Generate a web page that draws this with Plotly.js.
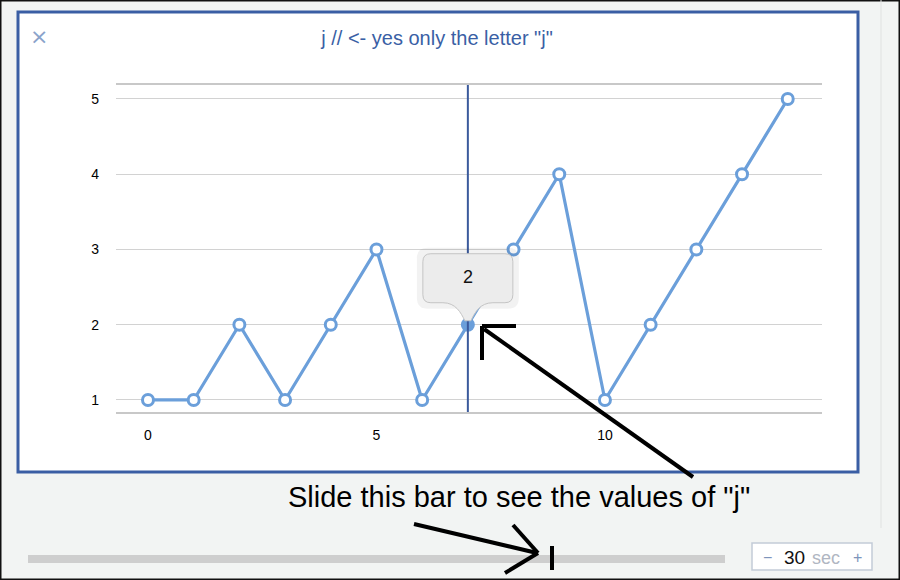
<!DOCTYPE html>
<html>
<head>
<meta charset="utf-8">
<script src="https://cdn.plot.ly/plotly-3.0.1.min.js"></script>
<style>
  html, body { margin: 0; padding: 0; background: #f2f4f3; }
  #myDiv { width: 900px; height: 580px; }
</style>
</head>
<body>
<div id="myDiv"></div>
<script>
// values of "j" for each step
var steps = [0, 1, 2, 3, 4, 5, 6, 7, 8, 9, 10, 11, 12, 13, 14];
var jValues = [1, 1, 2, 1, 2, 3, 1, 2, 3, 4, 1, 2, 3, 4, 5];
var xTicks = [0, 5, 10];
var yTicks = [1, 2, 3, 4, 5];
var sliderIndex = 7;

var chartTitle = 'j // <- yes only the letter "j"';
var noteText = 'Slide this bar to see the values of "j"';

var W = 900, H = 580;
function px(x) { return x / W; }
function py(y) { return 1 - y / H; }

var lineBlue = '#6b9fda';
var frameBlue = '#3a5ea4';

function drawChart() {
    var markerFill = jValues.map(function (v, i) {
        return i === sliderIndex ? lineBlue : '#ffffff';
    });

    var trace = {
        x: steps,
        y: jValues,
        type: 'scatter',
        mode: 'lines+markers',
        line: { color: lineBlue, width: 3.2 },
        marker: {
            size: 11,
            color: markerFill,
            line: { color: lineBlue, width: 3 }
        },
        hoverinfo: 'none'
    };

    function seg(x0, y0, x1, y1, w, c) {
        return {
            type: 'line', xref: 'paper', yref: 'paper',
            x0: px(x0), y0: py(y0), x1: px(x1), y1: py(y1),
            line: { color: c || '#000000', width: w }
        };
    }

    function label(x, y, text, size, color, family) {
        return {
            xref: 'paper', yref: 'paper', x: px(x), y: py(y),
            xanchor: 'center', yanchor: 'middle',
            text: text, showarrow: false,
            font: { family: family || 'Liberation Sans', size: size, color: color }
        };
    }

    var shapes = [
        // outer frame of the widget
        {
            type: 'rect', xref: 'paper', yref: 'paper', layer: 'below',
            x0: px(18), x1: px(858), y0: py(472), y1: py(12),
            fillcolor: '#ffffff', line: { color: frameBlue, width: 3 }
        },
        // screenshot border
        {
            type: 'rect', xref: 'paper', yref: 'paper',
            x0: 0, x1: 1, y0: 0, y1: 1,
            line: { color: '#111111', width: 3 }
        },
        // scrollbar edge
        seg(881, 0, 881, 528, 1, '#e0e2e1'),
        // slider track
        {
            type: 'rect', xref: 'paper', yref: 'paper',
            x0: px(28), x1: px(725), y0: py(563), y1: py(555),
            fillcolor: '#cecece', line: { width: 0 }
        },
        // slider thumb
        seg(552, 546, 552, 570, 4),
        // seconds box
        {
            type: 'rect', xref: 'paper', yref: 'paper',
            x0: px(752), x1: px(872), y0: py(570), y1: py(543),
            fillcolor: '#ffffff', line: { color: '#c3cbd8', width: 1.5 }
        },
        // hand drawn arrows
        seg(693, 477, 484, 329, 4),
        seg(482, 326, 516, 326, 4),
        seg(482, 326, 482, 360, 4),
        seg(414, 524, 537, 553, 4),
        seg(513, 525, 538, 553, 4),
        seg(538, 553, 505, 573, 4),
        // cursor line at the slider position
        {
            type: 'line', xref: 'x', yref: 'y domain',
            x0: sliderIndex, x1: sliderIndex, y0: 0, y1: 1,
            line: { color: '#3b5a9c', width: 2 }
        },
        // tooltip shadow
        {
            type: 'path', xref: 'x', yref: 'y',
            xsizemode: 'pixel', ysizemode: 'pixel',
            xanchor: sliderIndex, yanchor: jValues[sliderIndex],
            path: 'M -40,16 L 40,16 Q 51,16 51,27 L 51,67 Q 51,77 40,77 L -40,77 Q -51,77 -51,67 L -51,27 Q -51,16 -40,16 Z',
            fillcolor: 'rgba(0,0,0,0.05)', line: { width: 0 }
        },
        // tooltip callout
        {
            type: 'path', xref: 'x', yref: 'y',
            xsizemode: 'pixel', ysizemode: 'pixel',
            xanchor: sliderIndex, yanchor: jValues[sliderIndex],
            path: 'M -37,22 L -25,22 C -12,22 -7,12 -3,4 L 3,4 C 7,12 12,22 25,22 L 37,22 Q 45,22 45,30 L 45,63 Q 45,71 37,71 L -37,71 Q -45,71 -45,63 L -45,30 Q -45,22 -37,22 Z',
            fillcolor: '#ececec', line: { color: '#c4c4c4', width: 1 }
        }
    ];

    var annotations = [
        label(39, 37, '\u00d7', 22, '#8aa3cb', 'DejaVu Sans'),
        {
            xref: 'x', yref: 'y', x: sliderIndex, y: jValues[sliderIndex],
            xanchor: 'center', yanchor: 'middle',
            yshift: 48, text: String(jValues[sliderIndex]), showarrow: false,
            font: { family: 'Liberation Sans', size: 18, color: '#111111' }
        },
        label(519, 497, noteText, 29, '#000000'),
        label(767, 557, '\u2212', 16, '#7d94bb'),
        label(794, 557, '30', 19, '#111111'),
        label(826, 558, 'sec', 18, '#b0b6c2'),
        label(857, 557, '+', 16, '#7d94bb')
    ];

    var layout = {
        width: W,
        height: H,
        margin: { l: 0, r: 0, t: 0, b: 0 },
        paper_bgcolor: '#f2f4f3',
        plot_bgcolor: 'rgba(0,0,0,0)',
        showlegend: false,
        hovermode: false,
        font: { family: 'Liberation Sans', size: 14, color: '#000000' },
        title: {
            text: chartTitle,
            x: px(437), y: py(38), xanchor: 'center', yanchor: 'middle',
            font: { family: 'Liberation Sans', size: 20, color: '#3a5fa5' }
        },
        xaxis: {
            domain: [px(116), px(822)],
            range: [-0.7, 14.75],
            tickvals: xTicks,
            ticks: '',
            ticklabelstandoff: 9,
            showgrid: false,
            zeroline: false,
            showline: true,
            mirror: true,
            linecolor: '#c8c8c8',
            linewidth: 2,
            fixedrange: true
        },
        yaxis: {
            domain: [py(412), py(85)],
            range: [0.84, 5.186],
            tickvals: yTicks,
            ticks: '',
            ticklabelstandoff: 16,
            showgrid: true,
            gridcolor: '#d2d2d2',
            gridwidth: 1,
            zeroline: false,
            showline: false,
            fixedrange: true
        },
        shapes: shapes,
        annotations: annotations
    };

    Plotly.newPlot('myDiv', [trace], layout, { displayModeBar: false, staticPlot: true });
}

drawChart();
</script>
</body>
</html>
